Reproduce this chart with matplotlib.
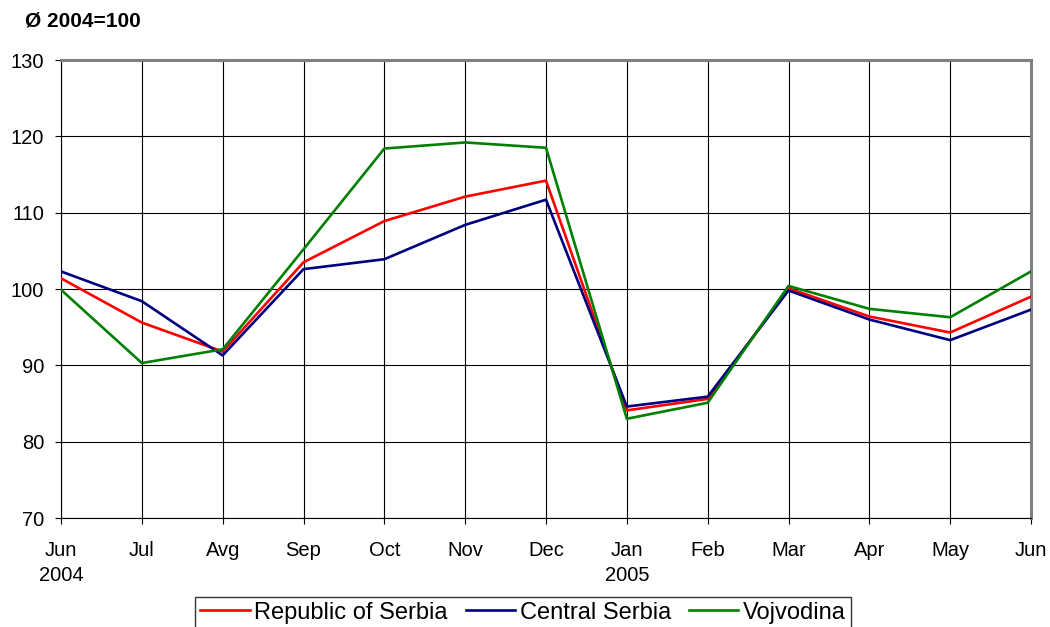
import matplotlib
matplotlib.use("Agg")
import matplotlib.pyplot as plt

months = ["Jun\n2004", "Jul", "Avg", "Sep", "Oct", "Nov", "Dec",
          "Jan\n2005", "Feb", "Mar", "Apr", "May", "Jun"]
serbia = [101.4, 95.6, 91.8, 103.5, 108.9, 112.1, 114.2, 84.1, 85.6, 100.1, 96.4, 94.3, 99.0]
central = [102.3, 98.4, 91.3, 102.6, 103.9, 108.4, 111.7, 84.6, 85.9, 99.8, 96.0, 93.3, 97.3]
vojvodina = [99.9, 90.3, 92.1, 105.2, 118.4, 119.2, 118.5, 83.0, 85.1, 100.4, 97.4, 96.3, 102.3]
yticks = [70, 80, 90, 100, 110, 120, 130]

plt.rcParams['font.family'] = ['Liberation Sans', 'DejaVu Sans']

fig = plt.figure(figsize=(10.5, 6.27), dpi=100)
ax = fig.add_axes([61/1050, 1 - 518/627, (1031-61)/1050, (518-60)/627])

x = list(range(len(months)))
ax.plot(x, serbia, color="#FF0000", lw=1.9, label="Republic of Serbia", zorder=3)
ax.plot(x, central, color="#000080", lw=1.9, label="Central Serbia", zorder=3)
ax.plot(x, vojvodina, color="#008000", lw=1.9, label="Vojvodina", zorder=3)

ax.set_xlim(0, len(months) - 1)
ax.set_ylim(70, 130)
ax.set_xticks(x)
ax.set_xticklabels(months, fontsize=14.5, linespacing=1.42)
ax.set_yticks(yticks)
ax.set_yticklabels([str(v) for v in yticks], fontsize=14.5)
ax.grid(True, color="#000000", lw=0.8, zorder=0)
ax.set_axisbelow(True)
ax.tick_params(axis='both', direction='out', length=4.5, width=0.8, color='black')
ax.tick_params(axis='y', pad=7.5)
ax.tick_params(axis='x', pad=12)
for s in ['top', 'right']:
    ax.spines[s].set_color('#808080')
    ax.spines[s].set_linewidth(2.2)
ax.spines['left'].set_color('black')
ax.spines['bottom'].set_color('black')
ax.spines['left'].set_linewidth(0.8)
ax.spines['bottom'].set_linewidth(0.8)

fig.text(25/1050, 1 - 21/627, "Ø 2004=100", fontsize=15, fontweight='bold', va='center', ha='left')

leg = fig.legend(loc='upper center', bbox_to_anchor=(523/1050, 1 - 597/627), ncol=3,
                 fontsize=17, frameon=True, fancybox=False, edgecolor='black',
                 handlelength=2.1, handletextpad=0.2, columnspacing=0.75,
                 borderpad=0.2, borderaxespad=0)
leg.get_frame().set_linewidth(1.0)

fig.savefig("out.png", dpi=100)
